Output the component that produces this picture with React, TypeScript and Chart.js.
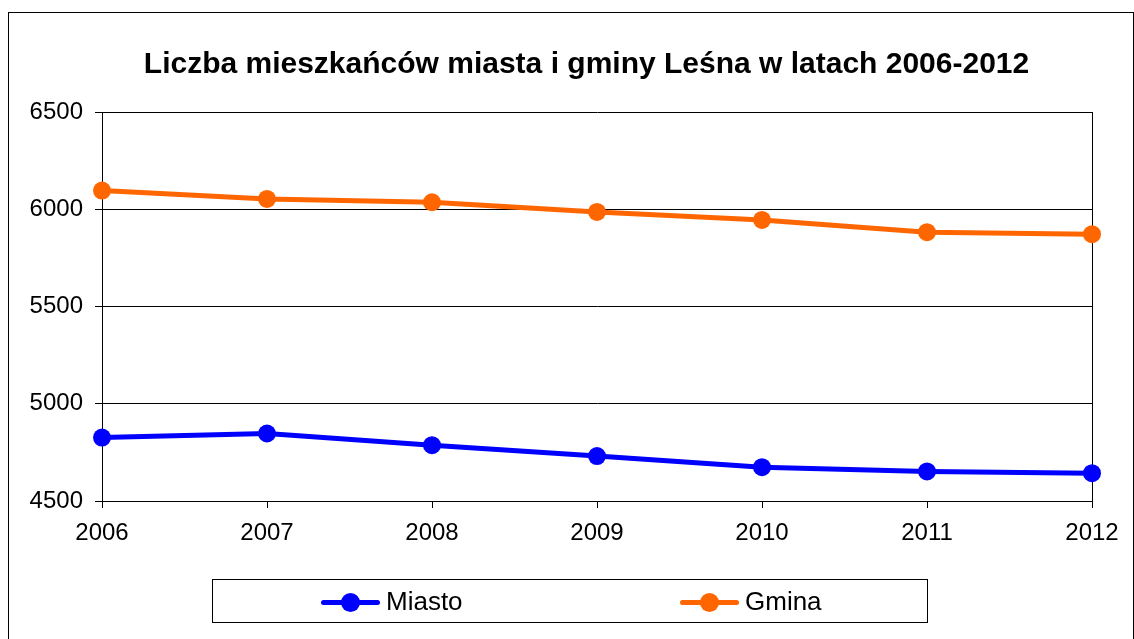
import React, { useEffect, useRef } from "react";
import { Chart, registerables } from "chart.js";

Chart.register(...registerables);

const years = ["2006", "2007", "2008", "2009", "2010", "2011", "2012"];
const miasto = [4826, 4847, 4787, 4731, 4674, 4652, 4643];
const gmina = [6096, 6053, 6036, 5986, 5945, 5882, 5872];
const titleText = "Liczba mieszkańców miasta i gminy Leśna w latach 2006-2012";
const seriesNames = ["Miasto", "Gmina"];
const seriesColors = ["#0000FF", "#FF6600"];

const FONT = "'Liberation Sans', Arial, Helvetica, sans-serif";

const frame = {
  id: "plotFrame",
  beforeDatasetsDraw(chart: any) {
    const { ctx, chartArea } = chart;
    ctx.save();
    ctx.strokeStyle = "#000";
    ctx.lineWidth = 1;
    ctx.beginPath();
    const x = Math.round(chartArea.right) + 0.5;
    ctx.moveTo(x, chartArea.top);
    ctx.lineTo(x, chartArea.bottom);
    ctx.stroke();
    ctx.restore();
  },
  afterDraw(chart: any) {
    const { ctx } = chart;
    ctx.save();
    ctx.fillStyle = "#000";
    ctx.font = "bold 30px " + FONT;
    ctx.textAlign = "center";
    ctx.textBaseline = "middle";
    ctx.fillText(titleText, 586.5, 65);
    ctx.restore();
  },
};

export default function App() {
  const ref = useRef<HTMLCanvasElement>(null);

  useEffect(() => {
    if (!ref.current) return;
    const chart = new Chart(ref.current, {
      type: "line",
      data: {
        labels: years,
        datasets: [
          {
            label: seriesNames[0],
            data: miasto,
            borderColor: seriesColors[0],
            backgroundColor: seriesColors[0],
            borderWidth: 5,
            pointRadius: 9,
            pointBorderWidth: 0,
            pointBackgroundColor: seriesColors[0],
            tension: 0,
          },
          {
            label: seriesNames[1],
            data: gmina,
            borderColor: seriesColors[1],
            backgroundColor: seriesColors[1],
            borderWidth: 5,
            pointRadius: 9,
            pointBorderWidth: 0,
            pointBackgroundColor: seriesColors[1],
            tension: 0,
          },
        ],
      },
      options: {
        responsive: false,
        animation: false,
        devicePixelRatio: 1,
        layout: { padding: { left: 0, right: 42, top: 112, bottom: 0 } },
        plugins: {
          legend: { display: false },
          tooltip: { enabled: false },
          title: { display: false },
        },
        scales: {
          x: {
            type: "category",
            offset: false,
            afterFit: (s: any) => {
              s.height = 138;
            },
            grid: {
              drawOnChartArea: false,
              drawTicks: true,
              tickLength: 7,
              color: "#000",
            },
            border: { display: true, color: "#000", width: 1 },
            ticks: {
              color: "#000",
              font: { family: FONT, size: 24 },
              padding: 11,
              maxRotation: 0,
              autoSkip: false,
            },
          },
          y: {
            min: 4500,
            max: 6500,
            afterFit: (s: any) => {
              s.width = 102;
            },
            grid: {
              drawOnChartArea: true,
              drawTicks: true,
              tickLength: 7,
              color: "#000",
            },
            border: { display: true, color: "#000", width: 1 },
            ticks: {
              stepSize: 500,
              color: "#000",
              font: { family: FONT, size: 24 },
              padding: 12,
              callback: (v: any) => String(v),
            },
          },
        },
      },
      plugins: [frame],
    });
    return () => chart.destroy();
  }, []);

  const legendItem = (i: number, left: number) => (
    <div key={i}>
      <div
        style={{
          position: "absolute",
          left: left,
          top: 20,
          width: 59,
          height: 5,
          borderRadius: 3,
          background: seriesColors[i],
        }}
      />
      <div
        style={{
          position: "absolute",
          left: left + 20,
          top: 13,
          width: 19,
          height: 19,
          borderRadius: "50%",
          background: seriesColors[i],
        }}
      />
      <div
        style={{
          position: "absolute",
          left: left + 65,
          top: 6,
          fontFamily: FONT,
          fontSize: 26,
          lineHeight: "30px",
          color: "#000",
          whiteSpace: "nowrap",
        }}
      >
        {seriesNames[i]}
      </div>
    </div>
  );

  return (
    <div
      style={{
        position: "absolute",
        left: 0,
        top: 0,
        width: 1134,
        height: 639,
        overflow: "hidden",
        background: "#fff",
      }}
    >
      <canvas
        ref={ref}
        width={1134}
        height={639}
        style={{ position: "absolute", left: 0, top: 0, width: 1134, height: 639 }}
      />
      <div
        style={{
          position: "absolute",
          left: 8,
          top: 12,
          width: 1126,
          height: 700,
          boxSizing: "border-box",
          border: "1px solid #000",
          pointerEvents: "none",
        }}
      />
      <div
        style={{
          position: "absolute",
          left: 212,
          top: 579,
          width: 716,
          height: 44,
          boxSizing: "border-box",
          border: "1px solid #000",
        }}
      >
        {legendItem(0, 108)}
        {legendItem(1, 467)}
      </div>
    </div>
  );
}
